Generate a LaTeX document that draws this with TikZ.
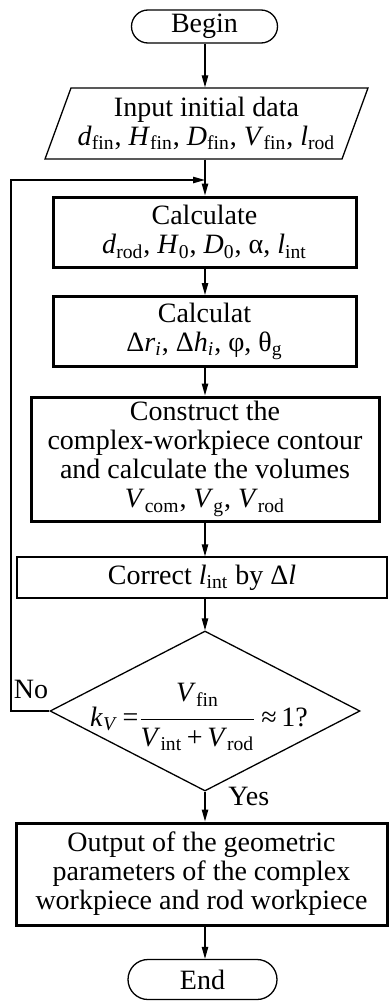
\documentclass[tikz,border=0pt]{standalone}
\usepackage{fontspec}
\setmainfont{Liberation Serif}
\usetikzlibrary{shapes.geometric,shapes.misc,arrows.meta}
\newcommand\sv[2]{\textit{#1}\textsubscript{#2}}
\def\flow{\draw[flowarrow]}
\tikzset{
  base/.style={draw,line width=0.65pt,align=center,inner sep=0pt},
  term/.style={base,rounded rectangle,minimum width=73pt,minimum height=16.5pt},
  inbox/.style={base,trapezium,trapezium left angle=65,trapezium right angle=115,
    trapezium stretches=true,minimum width=161.5pt,minimum height=35.5pt},
  proc/.style={base,line width=1.5pt},
  decision/.style={base,diamond,minimum width=155pt,minimum height=80pt},
  tag/.style={inner sep=0pt},
  flowarrow/.style={line width=0.65pt,-{Triangle[length=6pt,width=3.2pt]}},
}

\begin{document}
\begin{tikzpicture}[x=0.5pt,y=-0.5pt,font=\fontsize{14}{14.5}\selectfont]
  \useasboundingbox (0,0) rectangle (388,1001);
  \coordinate (axis) at (205,0);
  \coordinate (join) at (205,180);
  \coordinate (loopx) at (11,0);

  \node[term] (begin) at (204.5,26.5) {Begin};
  \node[inbox] (input) at (206.5,123.5) {Input initial data\\
    \sv{d}{fin}, \sv{H}{fin}, \sv{D}{fin}, \sv{V}{fin}, \sv{l}{rod}};
  \node[proc,minimum width=151.5pt,minimum height=35pt] (calc) at (204.5,232)
    {Calculate\\ \sv{d}{rod}, \sv{H}{0}, \sv{D}{0}, α, \sv{l}{int}};
  \node[proc,minimum width=151.5pt,minimum height=35pt] (calcb) at (204.5,331.5)
    {Calculat\\ Δ\sv{r}{\textit{i}}, Δ\sv{h}{\textit{i}}, φ, θ\textsubscript{g}};
  \node[proc,minimum width=174pt,minimum height=62pt] (build) at (205,459)
    {Construct the\\ complex-workpiece contour\\ and calculate the volumes\\
     \sv{V}{com}, \sv{V}{g}, \sv{V}{rod}};
  \node[base,minimum width=185pt,minimum height=20.5pt] (corr) at (202,577.5)
    {Correct \sv{l}{int} by Δ\textit{l}};
  \node[decision] (check) at (205,711) {};
  \node[tag] (ratio) at ([shift={(-6,6)}]check.center)
    {\textit{k}\textsubscript{\textit{V}}\thinspace=$\displaystyle\frac{\mbox{\raisebox{2.5pt}{\sv{V}{fin}}}}{\mbox{\sv{V}{int}\thinspace+\thinspace\sv{V}{rod}}}$\thinspace≈\thinspace1?};
  \node[proc,minimum width=185.5pt,minimum height=51pt] (out) at (201.5,874)
    {Output of the geometric\\ parameters of the complex\\ workpiece and rod workpiece};
  \node[term,minimum width=74.5pt,minimum height=20pt] (end) at (202.5,979.5) {End};

  \node[tag,anchor=base] (no) at (31,698) {No};
  \node[tag,anchor=base west] (yes) at (228,805) {Yes};

  \flow (begin.south -| axis) -- (input.north -| axis);
  \flow (input.south -| axis) -- (calc.north -| axis);
  \flow (calc.south -| axis) -- (calcb.north -| axis);
  \flow (calcb.south -| axis) -- (build.north -| axis);
  \flow (build.south -| axis) -- (corr.north -| axis);
  \flow (corr.south -| axis) -- (check.north);
  \flow (check.south) -- (out.north -| axis);
  \flow (out.south -| axis) -- (end.north -| axis);
  \flow (check.west) -- (check.west -| loopx) |- (join);
\end{tikzpicture}
\end{document}
